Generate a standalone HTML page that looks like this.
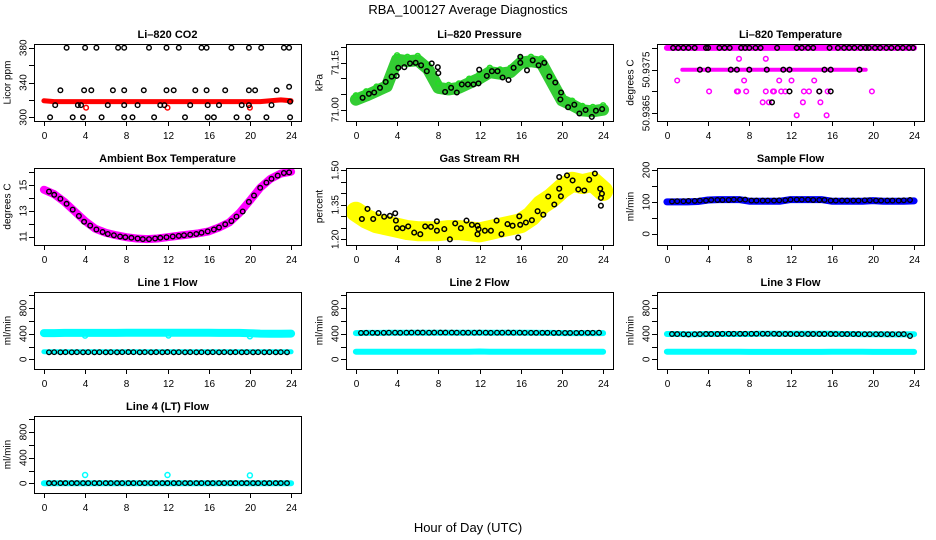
<!DOCTYPE html>
<html><head><meta charset="utf-8"><title>RBA_100127 Average Diagnostics</title>
<style>
html,body{margin:0;padding:0;background:#fff;}
svg{display:block;font-family:"Liberation Sans",Arial,sans-serif;}
</style></head>
<body>
<svg id="chart" width="936" height="540" viewBox="0 0 936 540" xmlns="http://www.w3.org/2000/svg">
<rect x="0" y="0" width="936" height="540" fill="#fff"/>
<text x="468" y="14" text-anchor="middle" font-size="13">RBA_100127  Average Diagnostics</text>
<text x="468" y="532" text-anchor="middle" font-size="13">Hour of Day (UTC)</text>
</svg>
<script>
// ---------- data ----------
const xTicks = [0,4,8,12,16,20,24];
const hours25 = [0,1,2,3,4,5,6,7,8,9,10,11,12,13,14,15,16,17,18,19,20,21,22,23,24];

// CO2
const co2Red = [319,318,318,318,318,318,318,318,318,318,318,318,318,318,318,318,318,318,318,318,318,318,319,320,319];
const co2RedOutHours = [4.1,12.0,20.0];
const co2RedOutVals = [311,311,311];
const co2BlackHours = [2.2,4.0,5.1,7.2,7.8,10.2,11.9,13.1,15.3,15.8,18.2,19.9,21.1,23.3,23.8,
 1.6,3.9,4.6,6.7,7.8,9.7,11.9,12.6,14.7,15.8,17.6,19.9,20.5,22.6,23.8,
 1.1,3.3,3.6,6.2,7.8,9.1,11.3,11.7,14.2,15.9,17.0,19.2,19.9,22.1,23.9,
 0.6,2.8,3.8,5.6,7.8,8.6,10.7,13.7,15.9,16.5,18.7,19.8,21.6,23.9];
const co2BlackVals = [380,380,380,380,380,380,380,380,380,380,380,380,380,380,380,
 331,331,331,331,331,331,331,331,331,331,331,331,331,331,335,
 314,314,314,314,314,314,314,314,314,314,314,314,314,314,318,
 300,300,300,300,300,300,300,300,300,300,300,300,300,300];

// Pressure
const presGreen = [71.032,71.045,71.06,71.075,71.16,71.155,71.158,71.13,71.07,71.065,71.07,71.085,71.10,71.12,71.115,71.12,71.15,71.155,71.15,71.09,71.03,71.015,70.998,70.995,71.0];
const presBlackHours = [0.65,1.26,1.78,2.34,2.89,3.47,3.96,4.12,4.70,5.25,5.81,6.33,6.88,7.36,7.95,8.0,8.66,9.24,9.80,10.28,10.87,11.42,11.90,11.97,12.71,13.20,13.75,14.24,14.82,15.31,15.96,15.96,16.61,17.16,17.74,18.29,18.78,19.36,19.92,19.85,20.6,21.2,21.7,22.3,22.9,23.3,23.9];
const presBlackVals = [71.038,71.051,71.055,71.070,71.089,71.106,71.108,71.134,71.136,71.148,71.150,71.142,71.123,71.148,71.136,71.117,71.057,71.070,71.055,71.081,71.081,71.081,71.084,71.128,71.108,71.123,71.123,71.103,71.095,71.134,71.150,71.169,71.126,71.158,71.142,71.150,71.106,71.087,71.055,71.033,71.008,71.016,70.988,70.999,70.977,70.997,71.002];

// Li-820 temperature
const tempRunHours = [[0,24],[1.5,19.3]];
const tempRunVals = [50.9380,50.9375];
const tempMagHours = [7.0,9.6, 1.0,7.5,10.9,12.1,14.3, 4.1,6.8,6.9,7.7,9.6,10.3,10.4,11.1,11.5,13.3,13.8,14.8,15.6,19.9, 9.3,9.9,13.2,14.9, 12.6,15.5];
const tempMagVals = [50.93775,50.93775, 50.93725,50.93725,50.93725,50.93725,50.93725, 50.9370,50.9370,50.9370,50.9370,50.9370,50.9370,50.9370,50.9370,50.9370,50.9370,50.9370,50.9370,50.9370,50.9370, 50.93675,50.93675,50.93675,50.93675, 50.93645,50.93645];
const tempBlackHours = [0.6,1.1,1.6,2.1,2.7,3.8,4.0,5.1,5.6,6.1,7.2,7.6,8.0,8.6,9.1,10.7,12.6,13.1,13.7,14.2,15.8,16.6,17.2,17.7,18.2,18.8,19.3,19.6,20.2,20.7,21.3,21.8,22.4,22.9,23.5,23.9,
 3.2,4.0,6.2,6.8,8.0,9.7,11.3,11.9,15.3,15.9,18.7, 11.9,14.8,15.9, 10.2];
const tempBlackVals = [50.9380,50.9380,50.9380,50.9380,50.9380,50.9380,50.9380,50.9380,50.9380,50.9380,50.9380,50.9380,50.9380,50.9380,50.9380,50.9380,50.9380,50.9380,50.9380,50.9380,50.9380,50.9380,50.9380,50.9380,50.9380,50.9380,50.9380,50.9380,50.9380,50.9380,50.9380,50.9380,50.9380,50.9380,50.9380,50.9380,
 50.9375,50.9375,50.9375,50.9375,50.9375,50.9375,50.9375,50.9375,50.9375,50.9375,50.9375, 50.9370,50.9370,50.9370, 50.93675];

// Ambient
const ambMag = [14.65,14.3,13.7,12.95,12.2,11.6,11.3,11.1,10.95,10.85,10.8,10.85,10.95,11.05,11.15,11.25,11.4,11.7,12.1,12.85,13.8,14.8,15.5,15.9,16.05];
const ambBlackHours = [0.5,1.0,1.6,2.2,2.8,3.4,3.9,4.5,5.1,5.7,6.2,6.8,7.4,7.9,8.5,9.1,9.6,10.2,10.8,11.3,11.9,12.5,13.1,13.6,14.2,14.8,15.3,15.9,16.5,17.0,17.6,18.2,18.7,19.3,19.9,20.4,21.0,21.6,22.1,22.7,23.3,23.8];
const ambBlackVals = [14.5,14.25,13.95,13.55,13.1,12.6,12.15,11.85,11.55,11.35,11.2,11.1,11.0,10.95,10.9,10.85,10.8,10.8,10.85,10.9,10.95,11.0,11.05,11.1,11.15,11.2,11.3,11.4,11.55,11.7,11.95,12.2,12.55,12.95,13.7,14.2,14.8,15.2,15.5,15.75,15.95,16.0];

// RH
const rhYellow = [1.32,1.29,1.27,1.26,1.25,1.24,1.235,1.235,1.235,1.24,1.24,1.235,1.23,1.24,1.25,1.26,1.27,1.30,1.35,1.38,1.42,1.45,1.44,1.45,1.41];
const rhBlackHours = [0.58,1.13,1.68,2.20,2.75,3.30,3.82,3.88,3.98,4.53,5.08,5.66,6.25,6.73,7.28,7.86,7.86,8.58,9.13,9.64,10.19,10.74,11.26,11.81,11.81,11.91,12.52,13.11,13.66,14.14,14.72,15.21,15.76,15.86,15.95,16.50,17.09,17.64,18.19,18.67,19.26,19.74,19.74,19.90,20.49,21.04,21.59,22.17,22.65,23.20,23.72,23.79,23.88,23.79];
const rhBlackVals = [1.288,1.332,1.288,1.314,1.298,1.302,1.313,1.281,1.248,1.248,1.256,1.229,1.222,1.256,1.254,1.278,1.237,1.244,1.200,1.269,1.248,1.281,1.263,1.259,1.222,1.244,1.237,1.237,1.281,1.222,1.266,1.259,1.207,1.300,1.263,1.273,1.283,1.322,1.307,1.386,1.351,1.471,1.420,1.387,1.478,1.456,1.417,1.412,1.459,1.486,1.420,1.380,1.398,1.346];

// Flows (black hourly averages share times)
const flowBlackHours = [0.5,1.0,1.6,2.1,2.7,3.2,3.8,4.3,4.9,5.4,6.0,6.5,7.1,7.6,8.2,8.7,9.3,9.8,10.4,10.9,11.5,12.0,12.6,13.1,13.7,14.2,14.8,15.3,15.9,16.4,17.0,17.5,18.1,18.6,19.2,19.7,20.3,20.8,21.4,21.9,22.5,23.0,23.6];
const sampleBlue = [100,100,100,101,106,107,107,107,102,102,102,102,107,107,107,107,102,102,102,102,104,102,102,102,103];
const sampleBlack = [101,102,102,103,103,104,104,106,106,106,106,107,107,107,104,104,104,104,104,105,105,107,107,107,107,106,106,106,104,104,104,104,104,104,105,105,104,104,104,104,104,105,106];
const line1CyanHigh = [410,410,412,412,412,412,412,412,414,414,414,414,414,414,414,414,414,412,412,412,408,402,400,400,402];
const line1CyanLow = [120,120,118,118,118,118,118,118,118,118,118,118,120,118,118,118,118,118,118,118,118,118,118,118,118];
const line1OutHours = [4.0,12.1,20.0];
const line1OutVals = [370,372,360];
const line1Black = [110,112,111,112,110,112,111,112,110,112,111,112,110,112,113,112,110,112,111,112,110,113,111,112,110,112,111,112,110,112,111,112,110,112,111,112,110,112,111,112,110,112,111];
const line2CyanHigh = [410,412,412,414,414,416,416,416,416,416,414,414,414,414,414,414,414,414,412,412,410,410,410,410,410];
const line2CyanLow = [120,118,118,118,120,120,120,120,120,120,120,120,122,120,120,120,120,120,120,120,120,120,120,120,120];
const line2Black = [412,414,414,412,414,416,416,414,416,418,418,418,416,418,418,418,418,416,416,416,416,418,416,414,416,416,418,416,416,414,414,414,414,414,412,414,412,412,412,414,414,414,416];
const line3CyanHigh = [395,395,392,392,395,395,395,396,396,398,398,398,398,398,398,398,398,395,395,392,392,392,390,390,392];
const line3CyanLow = [120,118,118,118,118,118,118,118,116,116,116,116,116,116,116,116,118,118,118,118,116,116,116,116,116];
const line3Black = [396,394,392,390,392,394,396,396,396,398,398,398,398,398,398,398,398,398,398,396,396,396,394,394,396,396,396,396,396,394,394,394,394,394,392,392,392,392,392,392,392,394,365];
const line4Cyan = [3,3,3,3,3,3,3,3,3,3,3,3,3,3,3,3,3,3,3,3,3,3,3,3,3];
const line4OutHours = [4.0,12.0,20.0];
const line4OutVals = [130,130,125];
const line4Black = [5,5,5,5,5,5,5,5,5,5,5,5,5,5,5,5,5,5,5,5,5,5,5,5,5,5,5,5,5,5,5,5,5,5,5,5,5,5,5,5,5,5,5];

// ---------- drawing ----------
const NS = "http://www.w3.org/2000/svg";
const svg = document.getElementById('chart');
const COLS = [34,346,657], ROWS = [44,168,292,416], PW = 267, PH = 77;

function mk(tag, attrs, parent){
  const e = document.createElementNS(NS, tag);
  for (const k in attrs) e.setAttribute(k, attrs[k]);
  parent.appendChild(e);
  return e;
}

function panel(cfg){
  const L = COLS[cfg.col], T = ROWS[cfg.row];
  const g = mk('g', {}, svg);
  
  
  const x0 = -0.96, x1 = 24.96;
  const sx = h => L + (h - x0) / (x1 - x0) * PW;
  const sy = v => T + PH - (v - cfg.ylim[0]) / (cfg.ylim[1] - cfg.ylim[0]) * PH;
  const clipId = 'clip-' + cfg.name;
  const cp = mk('clipPath', {id: clipId}, g);
  mk('rect', {x: L, y: T, width: PW, height: PH}, cp);
  const title = mk('text', {x: L + PW/2, y: T - 6, 'text-anchor': 'middle', 'font-size': 11, 'font-weight': 'bold'}, g);
  title.textContent = cfg.title;
  
  
  const ax = mk('g', {stroke: '#000', 'stroke-width': 1, fill: 'none'}, g);
  
  
  xTicks.forEach(t => {
    const X = Math.round(sx(t)) + 0.5;
    mk('line', {x1: X, y1: T + PH, x2: X, y2: T + PH + 5}, ax);
    const tl = mk('text', {x: X, y: T + PH + 18, 'text-anchor': 'middle', 'font-size': 10, fill: '#000', stroke: 'none'}, g);
    tl.textContent = t;
    
    
  });
  cfg.yticks.forEach(t => {
    const Y = Math.round(sy(t)) + 0.5;
    mk('line', {x1: L - 5, y1: Y, x2: L, y2: Y}, ax);
  });
  cfg.ylabels.forEach(t => {
    const Y = sy(t);
    const tl = mk('text', {x: 0, y: 0, 'text-anchor': 'middle', 'font-size': 10, transform: 'translate(' + (L - 10) + ',' + Y + ') rotate(-90)', 'dominant-baseline': 'central'}, g);
    tl.textContent = cfg.fmt ? cfg.fmt(t) : t;
    
    
  });
  const yl = mk('text', {x: 0, y: 0, 'text-anchor': 'middle', 'font-size': 10, transform: 'translate(' + (L - 26) + ',' + (T + PH/2) + ') rotate(-90)', 'dominant-baseline': 'central'}, g);
  yl.textContent = cfg.ylab;
  
  
  const data = mk('g', {'clip-path': 'url(#' + clipId + ')'}, g);
  
  
  const box = mk('rect', {x: L + 0.5, y: T + 0.5, width: PW, height: PH, fill: 'none', stroke: '#000', 'stroke-width': 1}, g);
  
  
  return {sx, sy, data, name: cfg.name};
}

function band(p, hrs, vals, color, w, label){
  const pts = hrs.map((h, i) => p.sx(h).toFixed(1) + ',' + p.sy(vals[i]).toFixed(1)).join(' ');
  const pl = mk('polyline', {points: pts, fill: 'none', stroke: color, 'stroke-width': w, 'stroke-linecap': 'round', 'stroke-linejoin': 'round'}, p.data);
  
  
}

function points(p, hrs, vals, color, r, sw, label){
  const g = mk('g', {fill: 'none', stroke: color, 'stroke-width': sw}, p.data);
  
  
  hrs.forEach((h, i) => {
    const c = mk('circle', {cx: p.sx(h).toFixed(1), cy: p.sy(vals[i]).toFixed(1), r: r}, g);
    
    
  });
}

const flowTicks = [0,200,400,600,800,1000], flowLabels = [0,400,800];

// CO2
let p = panel({col:0,row:0,name:'co2',title:'Li\u2013820 CO2',ylab:'Licor ppm',ylim:[295.7,384.3],yticks:[300,320,340,360,380],ylabels:[300,340,380]});
band(p, hours25, co2Red, '#ff0000', 5, 'red-series');
points(p, co2RedOutHours, co2RedOutVals, '#ff0000', 2.3, 1.5, 'red-outliers');
points(p, co2BlackHours, co2BlackVals, '#000', 2.3, 1.4, 'hourly-averages');

// Pressure
p = panel({col:1,row:0,name:'pressure',title:'Li\u2013820 Pressure',ylab:'kPa',ylim:[70.964,71.21],yticks:[71.0,71.05,71.1,71.15,71.2],ylabels:[71.0,71.15],fmt:v=>v.toFixed(2)});
band(p, hours25, presGreen, '#33cc33', 12, 'green-series');
points(p, hours25, presGreen.map(v=>v+0.014), '#22dd22', 2.5, 1.4, 'green-points');
points(p, presBlackHours, presBlackVals, '#000', 2.3, 1.5, 'hourly-averages');

// Li-820 temperature
p = panel({col:2,row:0,name:'li820-temp',title:'Li\u2013820 Temperature',ylab:'degrees C',ylim:[50.93632,50.93809],yticks:[50.938,50.9375,50.937,50.9365],ylabels:[50.9375,50.9365],fmt:v=>v.toFixed(4)});
tempRunHours.forEach((hr, i) => band(p, hr, [tempRunVals[i], tempRunVals[i]], '#ff00ff', i === 0 ? 6 : 4, 'magenta-run'));
points(p, tempMagHours, tempMagVals, '#ff00ff', 2.3, 1.5, 'magenta-points');
points(p, tempBlackHours, tempBlackVals, '#000', 2.3, 1.5, 'hourly-averages');

// Ambient
p = panel({col:0,row:1,name:'ambient',title:'Ambient Box Temperature',ylab:'degrees C',ylim:[10.34,16.34],yticks:[11,12,13,14,15,16],ylabels:[11,13,15]});
band(p, hours25, ambMag, '#ff00ff', 8, 'magenta-series');
points(p, ambBlackHours, ambBlackVals, '#000', 2.3, 1.4, 'hourly-averages');

// RH
p = panel({col:1,row:1,name:'rh',title:'Gas Stream RH',ylab:'percent',ylim:[1.175,1.51],yticks:[1.2,1.25,1.3,1.35,1.4,1.45,1.5],ylabels:[1.2,1.35,1.5],fmt:v=>v.toFixed(2)});
band(p, hours25, rhYellow, '#ffff00', 20, 'yellow-series');
points(p, rhBlackHours, rhBlackVals, '#000', 2.3, 1.5, 'hourly-averages');

// Sample flow
p = panel({col:2,row:1,name:'sample-flow',title:'Sample Flow',ylab:'ml/min',ylim:[-35,206],yticks:[0,50,100,150,200],ylabels:[0,100,200]});
band(p, hours25, sampleBlue, '#0000ff', 7, 'blue-series');
points(p, flowBlackHours, sampleBlack, '#000', 2.3, 1.3, 'hourly-averages');

// Line 1
p = panel({col:0,row:2,name:'line1',title:'Line 1 Flow',ylab:'ml/min',ylim:[-150,1050],yticks:flowTicks,ylabels:flowLabels});
band(p, hours25, line1CyanHigh, '#00ffff', 8, 'cyan-high');
band(p, hours25, line1CyanLow, '#00ffff', 5, 'cyan-low');
points(p, line1OutHours, line1OutVals, '#00ffff', 2.5, 1.5, 'cyan-outliers');
points(p, flowBlackHours, line1Black, '#000', 2.3, 1.3, 'hourly-averages');

// Line 2
p = panel({col:1,row:2,name:'line2',title:'Line 2 Flow',ylab:'ml/min',ylim:[-150,1050],yticks:flowTicks,ylabels:flowLabels});
band(p, hours25, line2CyanHigh, '#00ffff', 6, 'cyan-high');
band(p, hours25, line2CyanLow, '#00ffff', 6, 'cyan-low');
points(p, flowBlackHours, line2Black, '#000', 2.3, 1.3, 'hourly-averages');

// Line 3
p = panel({col:2,row:2,name:'line3',title:'Line 3 Flow',ylab:'ml/min',ylim:[-150,1050],yticks:flowTicks,ylabels:flowLabels});
band(p, hours25, line3CyanHigh, '#00ffff', 6, 'cyan-high');
band(p, hours25, line3CyanLow, '#00ffff', 6, 'cyan-low');
points(p, flowBlackHours, line3Black, '#000', 2.3, 1.3, 'hourly-averages');

// Line 4
p = panel({col:0,row:3,name:'line4',title:'Line 4 (LT) Flow',ylab:'ml/min',ylim:[-150,1050],yticks:flowTicks,ylabels:flowLabels});
band(p, hours25, line4Cyan, '#00ffff', 6, 'cyan-series');
points(p, line4OutHours, line4OutVals, '#00ffff', 2.5, 1.5, 'cyan-outliers');
points(p, flowBlackHours, line4Black, '#000', 2.3, 1.3, 'hourly-averages');
</script>
</body></html>
